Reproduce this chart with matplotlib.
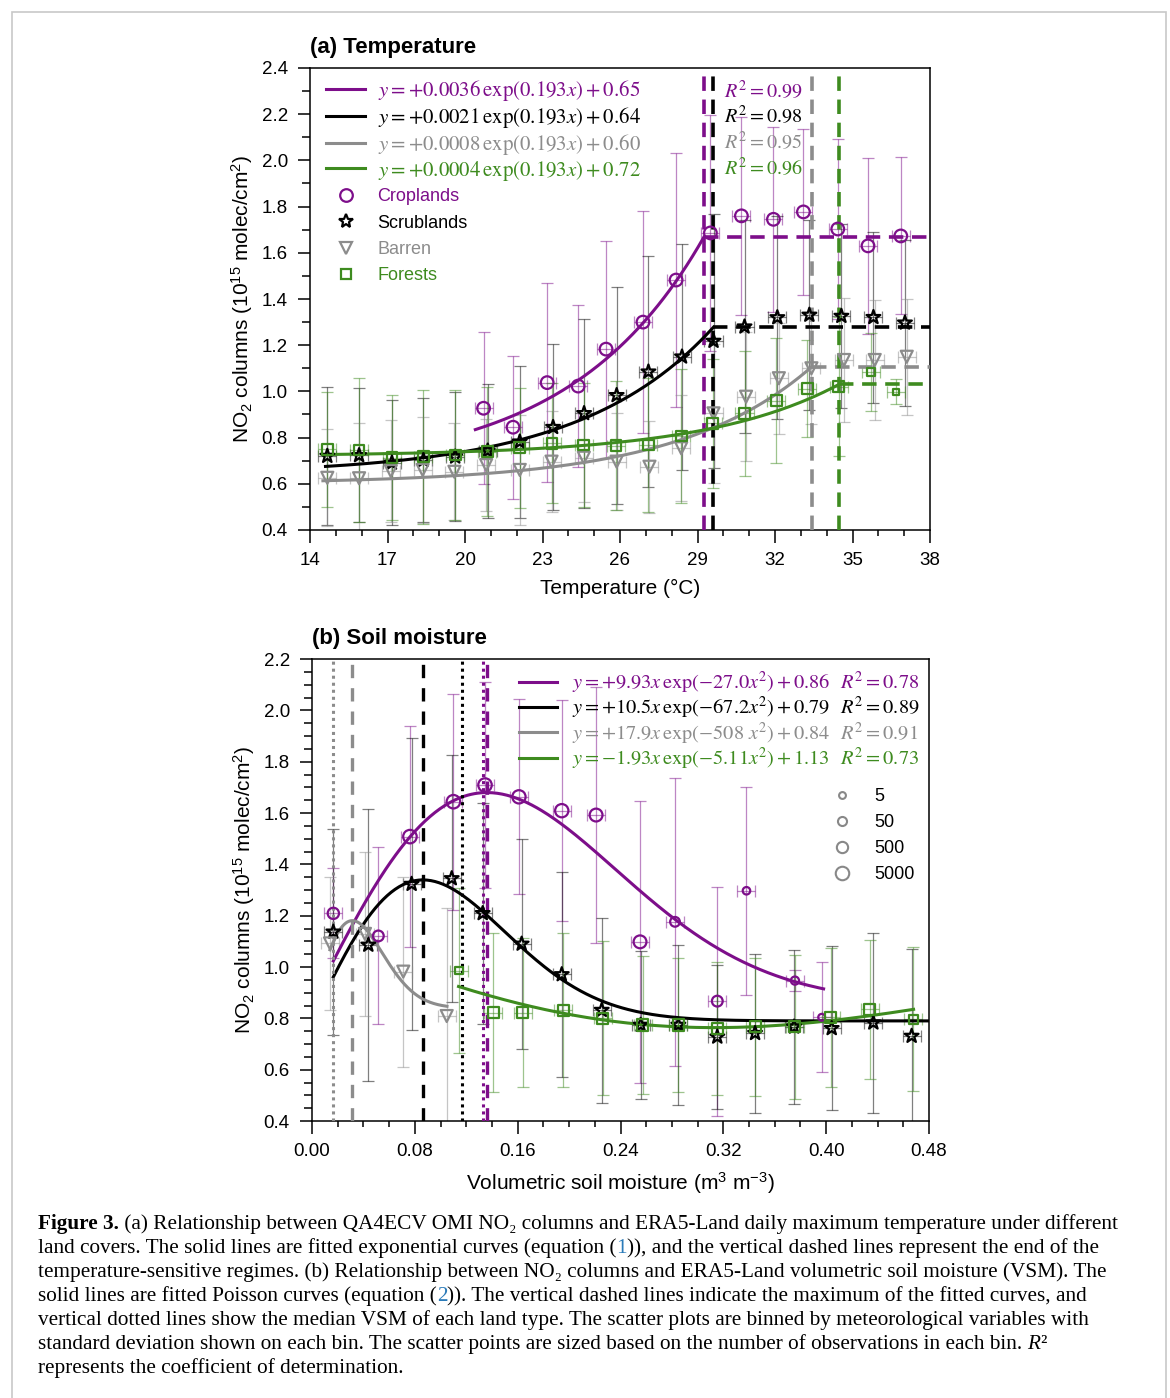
import numpy as np
import matplotlib
matplotlib.use('Agg')
import matplotlib.pyplot as plt
from matplotlib.lines import Line2D
from matplotlib.patches import Rectangle
from matplotlib.text import Annotation
from matplotlib.ticker import MultipleLocator, FormatStrFormatter

plt.rcParams['font.family'] = ['Liberation Sans', 'DejaVu Sans']
plt.rcParams['mathtext.fontset'] = 'custom'
plt.rcParams['mathtext.rm'] = 'Liberation Sans'
plt.rcParams['mathtext.it'] = 'Liberation Sans:italic'
plt.rcParams['mathtext.bf'] = 'Liberation Sans:bold'

# ---- data: (a) temperature bins ----
temp_crop_x = [20.72, 21.86, 23.18, 24.38, 25.46, 26.89, 28.17, 29.50, 30.70, 31.94, 33.10, 34.43, 35.60, 36.87]
temp_crop_y = [0.927, 0.845, 1.038, 1.023, 1.183, 1.300, 1.482, 1.686, 1.760, 1.745, 1.777, 1.703, 1.630, 1.673]
temp_crop_sd = [0.33, 0.31, 0.43, 0.35, 0.47, 0.48, 0.55, 0.51, 0.43, 0.40, 0.36, 0.39, 0.38, 0.34]
temp_crop_n = [2000] * 14

temp_scrub_x = [14.67, 15.90, 17.17, 18.39, 19.62, 20.88, 22.12, 23.41, 24.61, 25.87, 27.10, 28.40, 29.62, 30.82, 32.09, 33.33, 34.57, 35.81, 37.03]
temp_scrub_y = [0.720, 0.723, 0.691, 0.703, 0.717, 0.743, 0.782, 0.845, 0.905, 0.983, 1.085, 1.150, 1.218, 1.280, 1.320, 1.331, 1.326, 1.321, 1.297]
temp_scrub_sd = [0.30, 0.29, 0.27, 0.27, 0.28, 0.29, 0.33, 0.36, 0.41, 0.47, 0.50, 0.49, 0.55, 0.46, 0.44, 0.41, 0.40, 0.37, 0.36]
temp_scrub_n = [2000] * 19

temp_barren_x = [14.67, 15.90, 17.13, 18.36, 19.59, 20.82, 22.12, 23.35, 24.60, 25.87, 27.14, 28.37, 29.62, 30.88, 32.15, 33.41, 34.67, 35.86, 37.10]
temp_barren_y = [0.626, 0.624, 0.655, 0.660, 0.652, 0.681, 0.660, 0.696, 0.713, 0.696, 0.674, 0.754, 0.905, 0.977, 1.057, 1.100, 1.136, 1.136, 1.150]
temp_barren_sd = [0.21, 0.24, 0.22, 0.23, 0.21, 0.20, 0.24, 0.22, 0.19, 0.21, 0.20, 0.23, 0.30, 0.28, 0.24, 0.24, 0.27, 0.26, 0.25]
temp_barren_n = [2000] * 19

temp_forest_x = [14.67, 15.90, 17.17, 18.39, 19.62, 20.86, 22.12, 23.37, 24.60, 25.84, 27.10, 28.37, 29.59, 30.82, 32.05, 33.25, 34.47, 35.71, 36.67]
temp_forest_y = [0.749, 0.746, 0.713, 0.717, 0.725, 0.739, 0.756, 0.775, 0.768, 0.765, 0.768, 0.807, 0.862, 0.905, 0.960, 1.012, 1.020, 1.083, 0.999]
temp_forest_sd = [0.25, 0.31, 0.27, 0.29, 0.28, 0.28, 0.26, 0.26, 0.27, 0.28, 0.29, 0.29, 0.28, 0.27, 0.27, 0.21, 0.30, 0.17, 0.055]
temp_forest_n = [2000] * 17 + [50, 5]

temp_xsd = 0.35
temp_a = [0.0036, 0.0021, 0.0008, 0.0004]
temp_b = 0.193
temp_c = [0.65, 0.64, 0.60, 0.72]
temp_r2 = [0.99, 0.98, 0.95, 0.96]
temp_fit_start = [20.4, 14.6, 14.5, 14.6]
temp_break = [29.25, 29.61, 33.42, 34.48]

# ---- data: (b) soil moisture bins ----
vsm_crop_x = [0.0166, 0.0516, 0.0762, 0.1100, 0.1346, 0.1610, 0.1943, 0.2210, 0.2552, 0.2824, 0.3153, 0.3380, 0.3757, 0.3965]
vsm_crop_y = [1.209, 1.121, 1.508, 1.644, 1.709, 1.663, 1.609, 1.592, 1.098, 1.176, 0.867, 1.297, 0.947, 0.804]
vsm_crop_sd = [0.175, 0.345, 0.43, 0.42, 0.40, 0.38, 0.43, 0.50, 0.55, 0.56, 0.446, 0.405, 0.04, 0.215]
vsm_crop_n = [500, 300, 5000, 5000, 5000, 4000, 4000, 2500, 2500, 100, 300, 10, 20, 5]

vsm_scrub_x = [0.0166, 0.0438, 0.0775, 0.1087, 0.1328, 0.1631, 0.1943, 0.2254, 0.2557, 0.2850, 0.3153, 0.3447, 0.3750, 0.4043, 0.4367, 0.4665]
vsm_scrub_y = [1.137, 1.086, 1.323, 1.345, 1.209, 1.090, 0.971, 0.832, 0.774, 0.774, 0.728, 0.742, 0.767, 0.761, 0.783, 0.731]
vsm_scrub_sd = [0.40, 0.53, 0.57, 0.48, 0.43, 0.41, 0.40, 0.36, 0.29, 0.31, 0.28, 0.31, 0.30, 0.32, 0.35, 0.34]
vsm_scrub_n = [2000] * 16

vsm_barren_x = [0.0140, 0.0412, 0.0710, 0.1048]
vsm_barren_y = [1.092, 1.129, 0.982, 0.809]
vsm_barren_sd = [0.26, 0.32, 0.37, 0.42]
vsm_barren_n = [2000] * 4

vsm_forest_x = [0.1146, 0.1411, 0.1640, 0.1956, 0.2261, 0.2572, 0.2850, 0.3153, 0.3447, 0.3757, 0.4035, 0.4340, 0.4678]
vsm_forest_y = [0.986, 0.822, 0.822, 0.832, 0.800, 0.774, 0.774, 0.761, 0.767, 0.767, 0.804, 0.835, 0.796]
vsm_forest_sd = [0.32, 0.31, 0.29, 0.30, 0.30, 0.27, 0.26, 0.26, 0.27, 0.28, 0.27, 0.27, 0.28]
vsm_forest_n = [50] + [3000] * 11 + [300]

vsm_xsd = 0.007
vsm_a = [9.93, 10.5, 17.9, -1.93]
vsm_b = [27.0, 67.2, 508, 5.11]
vsm_c = [0.86, 0.79, 0.84, 1.13]
vsm_r2 = [0.78, 0.89, 0.91, 0.73]
vsm_fit_range = [(0.0166, 0.398), (0.0166, 0.48), (0.0140, 0.105), (0.114, 0.468)]
vsm_median = [0.1328, 0.1164, 0.0166]
size_legend_n = [5, 50, 500, 5000]

names = ['Croplands', 'Scrublands', 'Barren', 'Forests']
colors = ['#7d0e8a', '#000000', '#8c8c8c', '#3e8b1f']
markers = ['o', '*', 'v', 's']
mscale = [1.0, 1.15, 0.95, 0.85]


def msize(n, scale=1.0):
    return scale * (3.8 + 1.6 * np.log10(n))


def draw_bins(ax, x, y, sd, xsd, n, i):
    ax.errorbar(x, y, yerr=sd, xerr=xsd, fmt='none', ecolor=colors[i], alpha=0.5,
                elinewidth=0.9, capsize=4, capthick=0.9, zorder=2)
    s = [msize(k, mscale[i]) ** 2 for k in n]
    ax.scatter(x, y, s=s, marker=markers[i], facecolors='none', edgecolors=colors[i],
               linewidths=1.6, zorder=4)


def style_axes(ax):
    for sp in ax.spines.values():
        sp.set_linewidth(1.1)
    ax.tick_params(which='major', direction='out', length=9, width=1.1, labelsize=13.5, pad=7)
    ax.tick_params(axis='x', which='minor', direction='out', length=4, width=1.1)
    ax.tick_params(axis='y', which='minor', direction='out', length=6, width=1.1)


W, H = 1170, 1398
fig = plt.figure(figsize=(W / 100, H / 100), dpi=100)
ax1 = fig.add_axes([310 / W, 1 - 530 / H, 620 / W, 462 / H])
ax2 = fig.add_axes([312 / W, 1 - 1121 / H, 617 / W, 462 / H])

# ---------------- (a) temperature ----------------
temp_sets = [
    (temp_crop_x, temp_crop_y, temp_crop_sd, temp_crop_n),
    (temp_scrub_x, temp_scrub_y, temp_scrub_sd, temp_scrub_n),
    (temp_barren_x, temp_barren_y, temp_barren_sd, temp_barren_n),
    (temp_forest_x, temp_forest_y, temp_forest_sd, temp_forest_n),
]
T_MAX = 38
for i, (x, y, sd, n) in enumerate(temp_sets):
    draw_bins(ax1, x, y, sd, temp_xsd, n, i)
    xs = np.linspace(temp_fit_start[i], temp_break[i], 200)
    ys = temp_a[i] * np.exp(temp_b * xs) + temp_c[i]
    ax1.plot(xs, ys, color=colors[i], lw=2.2, zorder=3)
    ax1.hlines(ys[-1], temp_break[i], T_MAX, colors=colors[i], lw=2.6,
               linestyles=(0, (4, 2.4)), zorder=3)
    ax1.axvline(temp_break[i], color=colors[i], lw=2.6, ls=(0, (4, 2.4)), zorder=3)

ax1.set_xlim(14, T_MAX)
ax1.set_ylim(0.4, 2.4)
ax1.set_xticks(np.arange(14, 39, 3))
ax1.xaxis.set_minor_locator(MultipleLocator(1))
ax1.yaxis.set_major_locator(MultipleLocator(0.2))
ax1.yaxis.set_minor_locator(MultipleLocator(0.1))
ax1.yaxis.set_major_formatter(FormatStrFormatter('%.1f'))
style_axes(ax1)
ax1.set_xlabel('Temperature (°C)', fontsize=15, labelpad=7)
ax1.set_ylabel(r'NO$_2$ columns (10$^{15}$ molec/cm$^2$)', fontsize=15, labelpad=5)
ax1.set_title('(a) Temperature', loc='left', fontsize=16, fontweight='bold', pad=11)

# fitted-curve legend (equations) and land-cover marker legend
eq_a = [rf'$y = +{a:.4f}\,\exp({temp_b}x) + {c:.2f}$' for a, c in zip(temp_a, temp_c)]
h_lines = [Line2D([], [], color=c, lw=2.2) for c in colors]
leg_eq = ax1.legend(h_lines, eq_a, loc='upper left', bbox_to_anchor=(0.026, 0.978),
                    frameon=False, fontsize=15, handlelength=1.87, handletextpad=0.62,
                    labelspacing=0.09, borderpad=0, borderaxespad=0, labelcolor=colors)
for t in leg_eq.get_texts():
    t.set_math_fontfamily('stix')
ax1.add_artist(leg_eq)
h_marks = [Line2D([], [], ls='none', marker=m, mfc='none', mec=c, mew=1.6, ms=msize(2000, s))
           for m, c, s in zip(markers, colors, mscale)]
ax1.legend(h_marks, names, loc='upper left', bbox_to_anchor=(0.026, 0.740),
           frameon=False, fontsize=13, handlelength=2.15, handletextpad=0.7,
           labelspacing=0.52, borderpad=0, borderaxespad=0, labelcolor=colors)
for i, r2 in enumerate(temp_r2):
    ax1.text(0.668, 0.952 - 0.056 * i, rf'$R^2 = {r2:.2f}$', transform=ax1.transAxes,
             color=colors[i], fontsize=14.5, va='center', math_fontfamily='stix')

# ---------------- (b) soil moisture ----------------
vsm_sets = [
    (vsm_crop_x, vsm_crop_y, vsm_crop_sd, vsm_crop_n),
    (vsm_scrub_x, vsm_scrub_y, vsm_scrub_sd, vsm_scrub_n),
    (vsm_barren_x, vsm_barren_y, vsm_barren_sd, vsm_barren_n),
    (vsm_forest_x, vsm_forest_y, vsm_forest_sd, vsm_forest_n),
]
for i, (x, y, sd, n) in enumerate(vsm_sets):
    draw_bins(ax2, x, y, sd, vsm_xsd, n, i)
    xs = np.linspace(vsm_fit_range[i][0], vsm_fit_range[i][1], 300)
    ys = vsm_a[i] * xs * np.exp(-vsm_b[i] * xs ** 2) + vsm_c[i]
    ax2.plot(xs, ys, color=colors[i], lw=2.2, zorder=3)
    if i < 3:
        peak = 1 / np.sqrt(2 * vsm_b[i])
        ax2.axvline(peak, color=colors[i], lw=2.4, ls=(0, (4, 3)), zorder=3)
        ax2.axvline(vsm_median[i], color=colors[i], lw=2.2, ls=(0, (1, 1.3)), zorder=3)

ax2.set_xlim(0, 0.48)
ax2.set_ylim(0.4, 2.2)
ax2.xaxis.set_major_locator(MultipleLocator(0.08))
ax2.xaxis.set_minor_locator(MultipleLocator(0.02))
ax2.xaxis.set_major_formatter(FormatStrFormatter('%.2f'))
ax2.yaxis.set_major_locator(MultipleLocator(0.2))
ax2.yaxis.set_minor_locator(MultipleLocator(0.05))
ax2.yaxis.set_major_formatter(FormatStrFormatter('%.1f'))
style_axes(ax2)
ax2.set_xlabel(r'Volumetric soil moisture (m$^3$ m$^{-3}$)', fontsize=15, labelpad=7)
ax2.set_ylabel(r'NO$_2$ columns (10$^{15}$ molec/cm$^2$)', fontsize=15, labelpad=5)
ax2.set_title('(b) Soil moisture', loc='left', fontsize=16, fontweight='bold', pad=11)


def fmt_coef(v):
    return f'{v:+.2f}' if abs(v) < 10 else f'{v:+.1f}'


eq_b = []
for a, b, c, r2 in zip(vsm_a, vsm_b, vsm_c, vsm_r2):
    bs = f'{b:.3g}' if b >= 100 else (f'{b:.1f}' if b >= 10 else f'{b:.2f}')
    sp = r'\ ' if b >= 100 else ''
    eq_b.append(rf'$y = {fmt_coef(a)}x\,\exp(-{bs}{sp}x^2) + {c:.2f}\enspace\;R^2 = {r2:.2f}$')
leg2 = ax2.legend([Line2D([], [], color=c, lw=2.2) for c in colors], eq_b, loc='upper left',
                  bbox_to_anchor=(0.3355, 0.9765), frameon=False, fontsize=14.7,
                  handlelength=1.86, handletextpad=0.72, labelspacing=-0.04,
                  borderpad=0, borderaxespad=0, labelcolor=colors)
for t in leg2.get_texts():
    t.set_math_fontfamily('stix')
ax2.add_artist(leg2)
h_size = [Line2D([], [], ls='none', marker='o', mfc='none', mec='#888888', mew=1.5, ms=msize(k))
          for k in size_legend_n]
ax2.legend(h_size, [str(k) for k in size_legend_n], loc='upper left',
           bbox_to_anchor=(0.844, 0.720), frameon=False, fontsize=13,
           handlelength=1.0, handletextpad=1.3, labelspacing=0.5,
           borderpad=0, borderaxespad=0)

# ---------------- caption ----------------
CAP_FS = 15.3
CAP_X = 38 / W
LINK = '#2b7bb9'
serif = ['Liberation Serif', 'DejaVu Serif']
caption = [
    [('Figure 3.', {'weight': 'bold'}),
     (' (a) Relationship between QA4ECV OMI NO\u2082 columns and ERA5-Land daily maximum temperature under different', {})],
    [('land covers. The solid lines are fitted exponential curves (equation (', {}), ('1', {'color': LINK}),
     (')), and the vertical dashed lines represent the end of the', {})],
    [('temperature-sensitive regimes. (b) Relationship between NO\u2082 columns and ERA5-Land volumetric soil moisture (VSM). The', {})],
    [('solid lines are fitted Poisson curves (equation (', {}), ('2', {'color': LINK}),
     (')). The vertical dashed lines indicate the maximum of the fitted curves, and', {})],
    [('vertical dotted lines show the median VSM of each land type. The scatter plots are binned by meteorological variables with', {})],
    [('standard deviation shown on each bin. The scatter points are sized based on the number of observations in each bin. ', {}),
     ('R', {'style': 'italic'}), ('\u00b2', {})],
    [('represents the coefficient of determination.', {})],
]

for k, pieces in enumerate(caption):
    y = 1 - (1234 + 24 * k) / H
    prev = None
    for text, kw in pieces:
        style = dict(fontsize=CAP_FS, family=serif, va='bottom', ha='left', color='black')
        style.update(kw)
        if prev is None:
            prev = fig.text(CAP_X, y, text, **style)
        else:
            prev = fig.add_artist(Annotation(text, xy=(1, 0), xycoords=prev, **style))

fig.add_artist(Rectangle((12 / W, -0.05), (1166 - 12) / W, (H - 12) / H + 0.05,
                         transform=fig.transFigure, fill=False, ec='#c8c8c8', lw=1.2))

fig.savefig('out.png', dpi=100)
